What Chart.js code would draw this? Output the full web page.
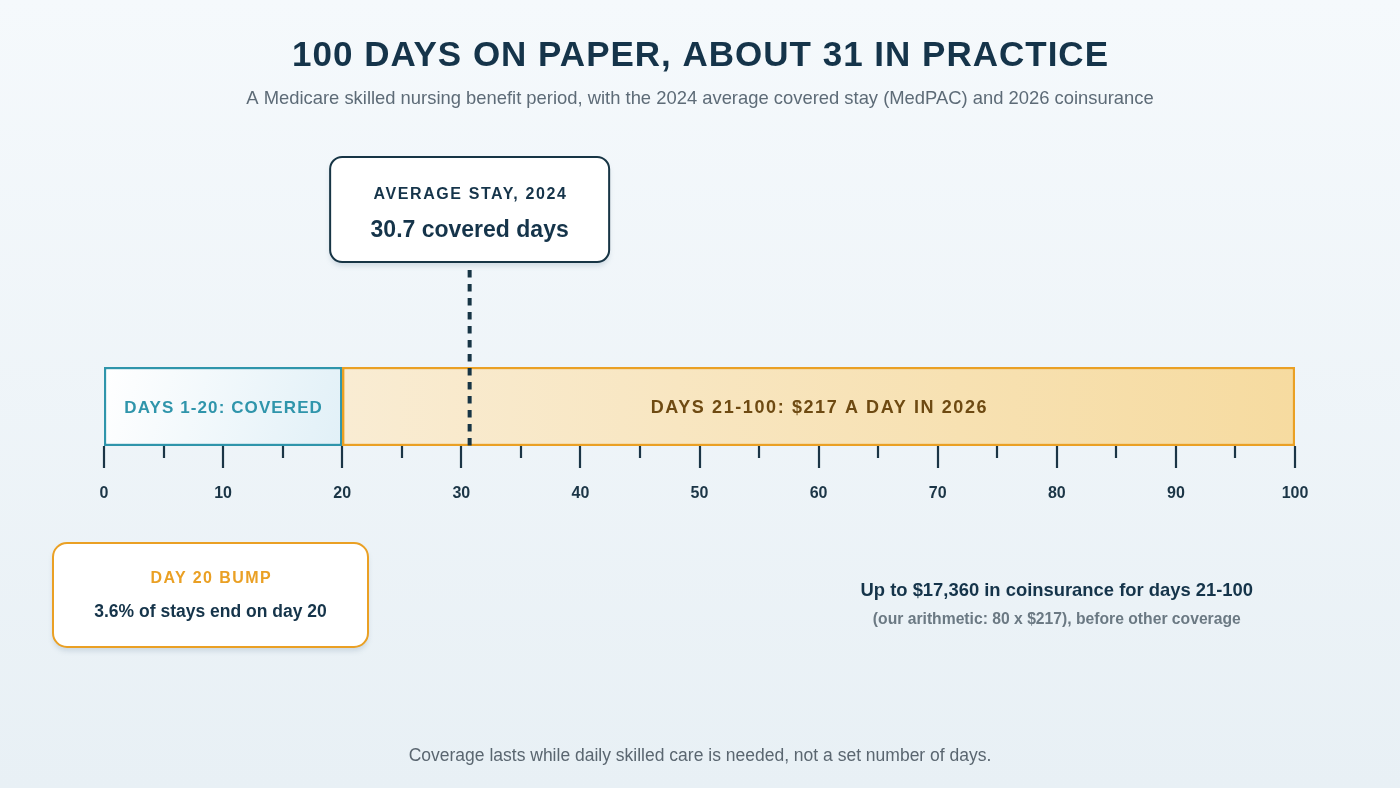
<!DOCTYPE html>
<html>
<head>
<meta charset="utf-8">
<script src="https://cdn.jsdelivr.net/npm/chart.js@4.4.1/dist/chart.umd.min.js"></script>
<style>
  html, body { margin: 0; padding: 0; background: #eef4f8; }
  canvas { display: block; }
</style>
</head>
<body>
<canvas id="c" width="1400" height="788"></canvas>
<script>
// ---- data ----
const categories = ['Benefit period'];
const coveredDays = [[0, 20]];          // days 1-20 fully covered
const coinsuranceDays = [[20, 100]];    // days 21-100 with coinsurance
const averageStay = 30.7;               // 2024 average covered stay (MedPAC)
const majorTicks = [0, 10, 20, 30, 40, 50, 60, 70, 80, 90, 100];
const minorTicks = [5, 15, 25, 35, 45, 55, 65, 75, 85, 95];
const coveredLabel = 'DAYS 1-20: COVERED';
const coinsuranceLabel = 'DAYS 21-100: $217 A DAY IN 2026';
const titleText = '100 DAYS ON PAPER, ABOUT 31 IN PRACTICE';
const subtitleText = 'A Medicare skilled nursing benefit period, with the 2024 average covered stay (MedPAC) and 2026 coinsurance';
const avgCalloutTitle = 'AVERAGE STAY, 2024';
const avgCalloutValue = '30.7 covered days';
const bumpTitle = 'DAY 20 BUMP';
const bumpText = '3.6% of stays end on day 20';
const costLine1 = 'Up to $17,360 in coinsurance for days 21-100';
const costLine2 = '(our arithmetic: 80 x $217), before other coverage';
const footerText = 'Coverage lasts while daily skilled care is needed, not a set number of days.';

const FONT = '"Liberation Sans", Arial, Helvetica, sans-serif';
const NAVY = '#15344a';
const TEAL = '#2f95ab';
const ORANGE = '#eaa024';

function roundRect(ctx, x, y, w, h, r) {
  ctx.beginPath();
  ctx.moveTo(x + r, y);
  ctx.lineTo(x + w - r, y);
  ctx.arcTo(x + w, y, x + w, y + r, r);
  ctx.lineTo(x + w, y + h - r);
  ctx.arcTo(x + w, y + h, x + w - r, y + h, r);
  ctx.lineTo(x + r, y + h);
  ctx.arcTo(x, y + h, x, y + h - r, r);
  ctx.lineTo(x, y + r);
  ctx.arcTo(x, y, x + r, y, r);
  ctx.closePath();
}

function text(ctx, str, x, y, font, color, spacing) {
  ctx.save();
  ctx.font = font;
  ctx.fillStyle = color;
  ctx.textAlign = 'center';
  ctx.textBaseline = 'middle';
  ctx.letterSpacing = (spacing || 0) + 'px';
  ctx.fillText(str, x + (spacing || 0) / 2, y);
  ctx.restore();
}

function box(ctx, x, y, w, h, r, stroke) {
  ctx.save();
  ctx.shadowColor = 'rgba(110,140,165,0.25)';
  ctx.shadowBlur = 5;
  ctx.shadowOffsetY = 4;
  roundRect(ctx, x, y, w, h, r);
  ctx.fillStyle = '#ffffff';
  ctx.fill();
  ctx.restore();
  ctx.save();
  roundRect(ctx, x, y, w, h, r);
  ctx.lineWidth = 2;
  ctx.strokeStyle = stroke;
  ctx.stroke();
  ctx.restore();
}

const bgPlugin = {
  id: 'bg',
  beforeDraw(chart) {
    const ctx = chart.ctx;
    const g = ctx.createLinearGradient(0, 0, 0, chart.height);
    g.addColorStop(0, '#f5f9fc');
    g.addColorStop(1, '#e8f0f5');
    ctx.save();
    ctx.fillStyle = g;
    ctx.fillRect(0, 0, chart.width, chart.height);
    ctx.restore();
  }
};

const overlayPlugin = {
  id: 'overlay',
  afterDatasetsDraw(chart) {
    const ctx = chart.ctx;
    const xs = chart.scales.x;
    const area = chart.chartArea;
    const cx = chart.width / 2;

    // titles
    text(ctx, titleText, cx, 56, 'bold 35px ' + FONT, NAVY, 1.0);
    text(ctx, subtitleText, cx, 99, '18.4px ' + FONT, '#5d6b77', 0);

    // bar labels
    const m0 = chart.getDatasetMeta(0).data[0];
    const m1 = chart.getDatasetMeta(1).data[0];
    text(ctx, coinsuranceLabel, (m0.x + m0.base) / 2, m0.y + 2, 'bold 18px ' + FONT, '#6e4a12', 1.6);
    text(ctx, coveredLabel, (m1.x + m1.base) / 2, m1.y + 2, 'bold 17px ' + FONT, TEAL, 1.1);

    // ticks
    ctx.save();
    ctx.strokeStyle = '#1b3546';
    ctx.lineWidth = 2.2;
    majorTicks.forEach(v => {
      const px = Math.round(xs.getPixelForValue(v));
      ctx.beginPath(); ctx.moveTo(px, area.bottom); ctx.lineTo(px, area.bottom + 22); ctx.stroke();
    });
    minorTicks.forEach(v => {
      const px = Math.round(xs.getPixelForValue(v));
      ctx.beginPath(); ctx.moveTo(px, area.bottom); ctx.lineTo(px, area.bottom + 12); ctx.stroke();
    });
    ctx.restore();

    // average stay dashed marker
    const ax = xs.getPixelForValue(averageStay);
    ctx.save();
    ctx.strokeStyle = '#173545';
    ctx.lineWidth = 4;
    ctx.setLineDash([7.5, 6.5]);
    ctx.beginPath();
    ctx.moveTo(ax, 270);
    ctx.lineTo(ax, area.bottom);
    ctx.stroke();
    ctx.restore();

    // average stay callout
    const bw = 279, bh = 105;
    box(ctx, ax - bw / 2, 157, bw, bh, 12, '#173545');
    text(ctx, avgCalloutTitle, ax, 195, 'bold 16px ' + FONT, NAVY, 1.6);
    text(ctx, avgCalloutValue, ax, 231, 'bold 23px ' + FONT, NAVY, 0);

    // day 20 bump box
    box(ctx, 53, 543, 315, 104, 14, ORANGE);
    text(ctx, bumpTitle, 210.5, 579, 'bold 16px ' + FONT, ORANGE, 1.4);
    text(ctx, bumpText, 210.5, 612, 'bold 17.5px ' + FONT, NAVY, 0);

    // cost note
    const nx = xs.getPixelForValue(80);
    text(ctx, costLine1, nx, 591, 'bold 18.4px ' + FONT, NAVY, 0);
    text(ctx, costLine2, nx, 620, 'bold 15.7px ' + FONT, '#6b7983', 0);

    // footer
    text(ctx, footerText, cx, 756, '17.5px ' + FONT, '#5a6670', 0);
  }
};

function coveredFill(ctx) {
  const chart = ctx.chart, a = chart.chartArea;
  if (!a) return '#f2f8fb';
  const x0 = chart.scales.x.getPixelForValue(0), x1 = chart.scales.x.getPixelForValue(20);
  const g = chart.ctx.createLinearGradient(x0, a.top, x1, a.bottom);
  g.addColorStop(0, '#ffffff');
  g.addColorStop(1, '#e1f0f7');
  return g;
}
function coinsFill(ctx) {
  const chart = ctx.chart, a = chart.chartArea;
  if (!a) return '#f8e6bd';
  const x0 = chart.scales.x.getPixelForValue(20), x1 = chart.scales.x.getPixelForValue(100);
  const g = chart.ctx.createLinearGradient(x0, 0, x1, 0);
  g.addColorStop(0, '#f9ecd3');
  g.addColorStop(1, '#f6dba0');
  return g;
}

new Chart(document.getElementById('c'), {
  type: 'bar',
  data: {
    labels: categories,
    datasets: [
      {
        label: 'Days 21-100',
        data: coinsuranceDays,
        backgroundColor: coinsFill,
        borderColor: ORANGE,
        borderWidth: 2.5,
        borderSkipped: false,
        grouped: false,
        order: 0,
        categoryPercentage: 1,
        barPercentage: 1
      },
      {
        label: 'Days 1-20',
        data: coveredDays,
        backgroundColor: coveredFill,
        borderColor: TEAL,
        borderWidth: 2.5,
        borderSkipped: false,
        grouped: false,
        order: 1,
        categoryPercentage: 1,
        barPercentage: 1
      }
    ]
  },
  options: {
    indexAxis: 'y',
    responsive: false,
    animation: false,
    devicePixelRatio: 1,
    layout: { padding: { left: 104, right: 105, top: 367, bottom: 262 } },
    plugins: {
      legend: { display: false },
      tooltip: { enabled: false },
      title: { display: false }
    },
    scales: {
      y: { display: false },
      x: {
        type: 'linear',
        min: 0,
        max: 100,
        afterFit(scale) { scale.height = 80; },
        grid: { display: false, drawTicks: false },
        border: { display: false },
        ticks: {
          stepSize: 10,
          padding: 38,
          color: '#1b3546',
          font: { family: FONT, size: 16, weight: 'bold' }
        }
      }
    }
  },
  plugins: [bgPlugin, overlayPlugin]
});
</script>
</body>
</html>
